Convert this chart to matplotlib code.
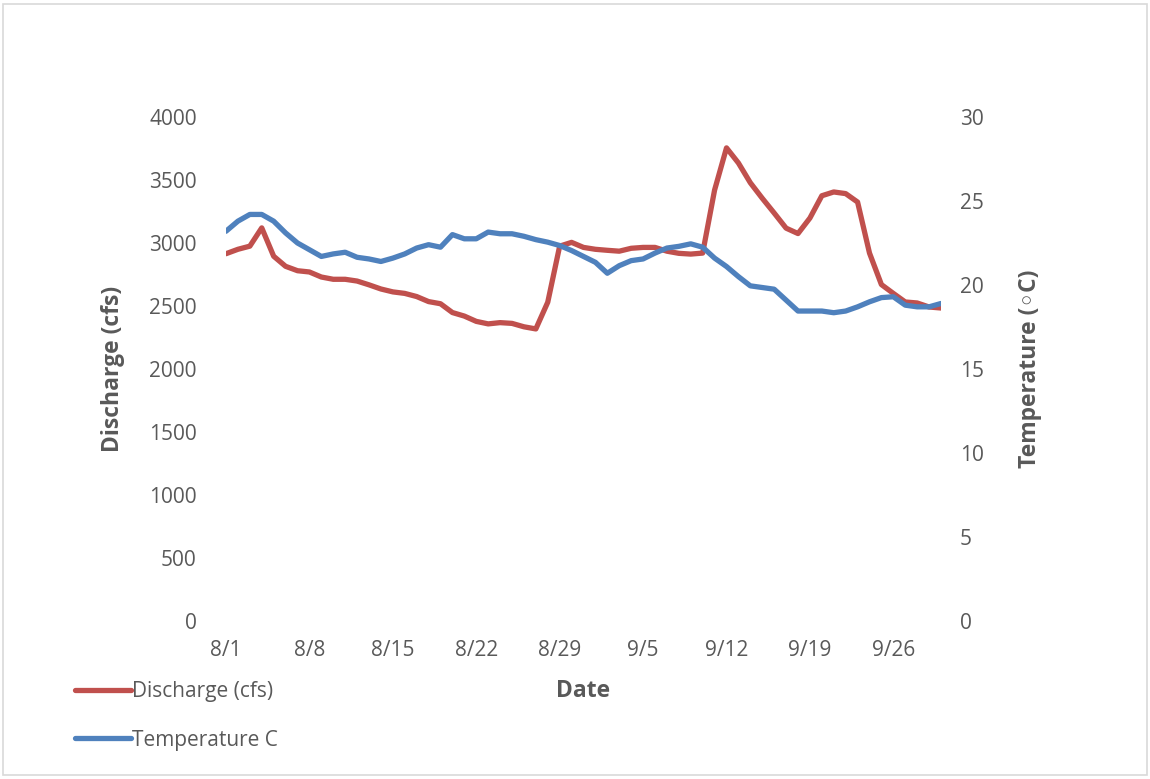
import matplotlib
matplotlib.use("Agg")
import matplotlib.pyplot as plt
from matplotlib.patches import Rectangle
import pandas as pd

plt.rcParams['font.family'] = ['Open Sans', 'DejaVu Sans']

dates = pd.date_range("2000-08-01", "2000-09-30", freq="D")
day_labels = [f"{d.month}/{d.day}" for d in dates]

discharge = [2915, 2950, 2975, 3120, 2895, 2815, 2780, 2770, 2730, 2712,
             2712, 2698, 2668, 2635, 2612, 2600, 2575, 2535, 2518, 2448,
             2420, 2378, 2358, 2368, 2362, 2335, 2318, 2530, 2975, 3005,
             2965, 2950, 2942, 2935, 2958, 2965, 2965, 2935, 2918, 2912,
             2920, 3420, 3755, 3635, 3478, 3355, 3238, 3118, 3075, 3198,
             3375, 3405, 3392, 3325, 2920, 2670, 2600, 2532, 2524, 2492,
             2484]

temperature = [23.2, 23.8, 24.2, 24.2, 23.8, 23.1, 22.5, 22.1, 21.7, 21.85,
               21.95, 21.65, 21.55, 21.4, 21.6, 21.85, 22.2, 22.4, 22.25, 23.0,
               22.75, 22.75, 23.15, 23.05, 23.05, 22.9, 22.7, 22.55, 22.35, 22.05,
               21.7, 21.35, 20.7, 21.15, 21.45, 21.55, 21.9, 22.2, 22.3, 22.45,
               22.25, 21.6, 21.1, 20.5, 19.95, 19.85, 19.75, 19.1, 18.45, 18.45,
               18.45, 18.35, 18.45, 18.7, 19.0, 19.25, 19.3, 18.8, 18.7, 18.7,
               18.9]

left_ticks = [0, 500, 1000, 1500, 2000, 2500, 3000, 3500, 4000]
right_ticks = [0, 5, 10, 15, 20, 25, 30]

RED = "#C0504D"
BLUE = "#4F81BD"
GRAY = "#595959"

fig = plt.figure(figsize=(11.5, 7.79), dpi=100)
fig.patches.append(Rectangle((0.003, 0.005), 0.994, 0.99, transform=fig.transFigure,
                             fill=False, edgecolor="#D9D9D9", linewidth=1.2))
ax = fig.add_axes([226/1150, 1-621/779, (941-226)/1150, (621-117)/779])
ax2 = ax.twinx()

x = list(range(len(dates)))
l1, = ax.plot(x, discharge, color=RED, lw=3.8, solid_capstyle="round", solid_joinstyle="round")
l2, = ax2.plot(x, temperature, color=BLUE, lw=3.8, solid_capstyle="round", solid_joinstyle="round")
ax2.set_zorder(ax.get_zorder() + 1)

ax.set_xlim(0, len(dates) - 1)
ax.set_ylim(0, 4000)
ax2.set_ylim(0, 30)
ax.set_yticks(left_ticks)
ax2.set_yticks(right_ticks)
tick_pos = list(range(0, len(dates), 7))
ax.set_xticks(tick_pos)
ax.set_xticklabels([day_labels[i] for i in tick_pos])

for a in (ax, ax2):
    for s in a.spines.values():
        s.set_visible(False)
    a.tick_params(length=0, labelsize=15, colors=GRAY)
ax.tick_params(axis='y', pad=21)
ax2.tick_params(axis='y', pad=13.5)
ax.tick_params(axis='x', pad=14)

ax.set_ylabel("Discharge (cfs)", fontsize=16.5, fontweight="bold", color=GRAY)
ax2.set_ylabel("Temperature (◦C)", fontsize=16.5, fontweight="bold", color=GRAY)
ax.set_xlabel("Date", fontsize=16.5, fontweight="bold", color=GRAY)
ax.yaxis.set_label_coords((125-226)/715, 0.5)
ax2.yaxis.set_label_coords((1018-226)/715, 0.5)
ax.xaxis.set_label_coords(0.5, -(679-621)/504)

fig.legend([l1, l2], ["Discharge (cfs)", "Temperature C"], loc="center left",
           bbox_to_anchor=(67/1150, 1-716/779), frameon=False, fontsize=15,
           labelcolor=GRAY, handlelength=2.65, handletextpad=0.05, labelspacing=1.3,
           borderaxespad=0)

fig.savefig("out.png", dpi=100)
